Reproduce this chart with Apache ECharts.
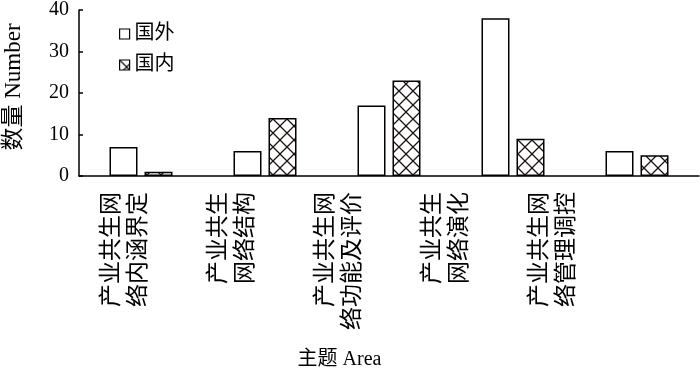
<!DOCTYPE html>
<html>
<head>
<meta charset="utf-8">
<script src="https://cdn.jsdelivr.net/npm/echarts@6/dist/echarts.min.js"></script>
<style>html,body{margin:0;padding:0;background:#fff;}#c{width:700px;height:374px;}</style>
</head>
<body>
<div id="c"></div>
<script>
var categories = ['产业共生网\n络内涵界定', '产业共生\n网络结构', '产业共生网\n络功能及评价', '产业共生\n网络演化', '产业共生网\n络管理调控'];
var foreignValues = [7, 6, 17, 38, 6];
var domesticValues = [1, 14, 23, 9, 5];
var seriesNames = ['国外', '国内'];
var yTicks = [0, 10, 20, 30, 40];

var FONT = '"Liberation Serif", "Times New Roman", "Noto Sans CJK SC", serif';

var pc = document.createElement('canvas');
pc.width = 14; pc.height = 14;
var g = pc.getContext('2d');
g.fillStyle = '#fff'; g.fillRect(0, 0, 14, 14);
g.strokeStyle = '#1e1212'; g.lineWidth = 1.3;
g.beginPath();
g.moveTo(0, 0); g.lineTo(14, 14);
g.moveTo(14, 0); g.lineTo(0, 14);
g.stroke();

var chart = echarts.init(document.getElementById('c'), null, {renderer: 'canvas'});
chart.setOption({
  animation: false,
  backgroundColor: '#fff',
  textStyle: {fontFamily: FONT, color: '#000'},
  legend: {
    orient: 'vertical', left: 114, top: 19, itemWidth: 10, itemHeight: 10, itemGap: 11,
    icon: 'rect',
    textStyle: {fontFamily: FONT, fontSize: 20, color: '#000'},
    data: [
      {name: seriesNames[0], itemStyle: {color: '#fff', borderColor: '#000', borderWidth: 1.2}},
      {name: seriesNames[1], itemStyle: {borderColor: '#000', borderWidth: 1.2}}
    ]
  },
  grid: [
    {left: 79, right: 1, top: 10, bottom: 198, containLabel: false, outerBoundsMode: 'none'},
    {left: 72, width: 535, top: 10, bottom: 198, containLabel: false, outerBoundsMode: 'none'}
  ],
  xAxis: [
    {
      type: 'category', gridIndex: 0, data: categories,
      axisLine: {lineStyle: {color: '#000', width: 1.5}},
      axisTick: {inside: true, length: 5, lineStyle: {color: '#000', width: 1.5}},
      axisLabel: {show: false}
    },
    {
      type: 'category', gridIndex: 1, data: categories,
      axisLine: {show: false}, axisTick: {show: false},
      axisLabel: {rotate: 90, margin: 16, fontSize: 23, lineHeight: 27, color: '#000', fontFamily: FONT},
      name: '主题 Area', nameLocation: 'middle', nameGap: 174,
      nameTextStyle: {fontSize: 20, color: '#000', fontFamily: FONT}
    }
  ],
  yAxis: [
    {
      type: 'value', gridIndex: 0, min: yTicks[0], max: yTicks[yTicks.length - 1], interval: 10,
      axisLine: {show: true, lineStyle: {color: '#000', width: 1.5}},
      axisTick: {show: true, inside: true, length: 4, lineStyle: {color: '#000', width: 1.5}},
      splitLine: {show: false},
      axisLabel: {margin: 10, fontSize: 20, color: '#000', fontFamily: FONT},
      name: '数量 Number', nameLocation: 'middle', nameGap: 54, nameRotate: 90,
      nameTextStyle: {fontSize: 23, color: '#000', fontFamily: FONT, padding: [0, 0, 0, 12]}
    },
    {type: 'value', gridIndex: 1, show: false}
  ],
  series: [
    {
      name: seriesNames[0], type: 'bar', xAxisIndex: 0, yAxisIndex: 0, data: foreignValues,
      barWidth: 28, barGap: '25%',
      itemStyle: {color: '#fff', borderColor: '#000', borderWidth: 1.5}
    },
    {
      name: seriesNames[1], type: 'bar', xAxisIndex: 0, yAxisIndex: 0, data: domesticValues,
      barWidth: 28, barGap: '25%',
      itemStyle: {color: {image: pc, repeat: 'repeat'}, borderColor: '#000', borderWidth: 1.5}
    }
  ]
});
</script>
</body>
</html>
